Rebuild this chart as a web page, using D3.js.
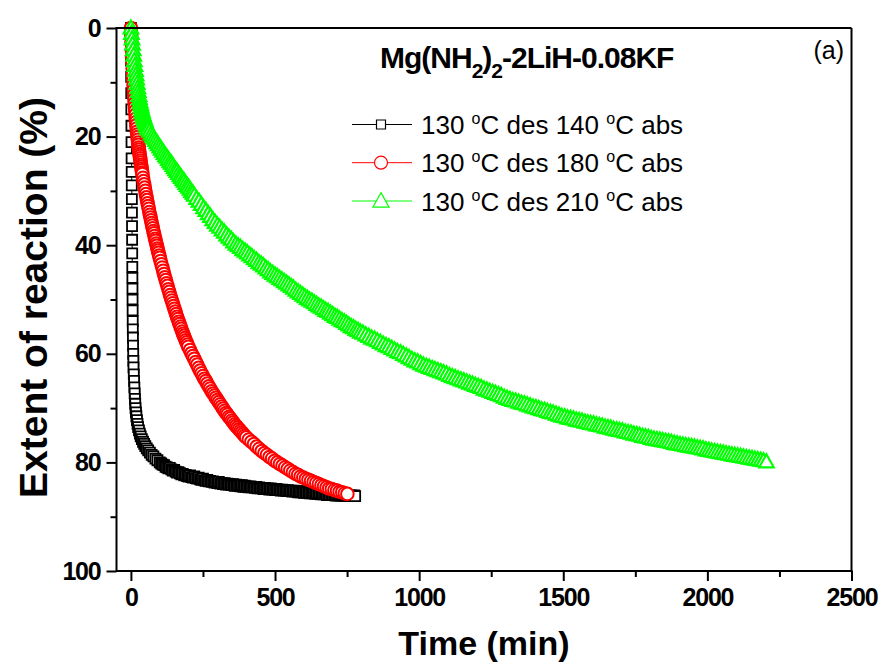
<!DOCTYPE html>
<html>
<head>
<meta charset="utf-8">
<script src="https://cdn.jsdelivr.net/npm/d3@7"></script>
<style>
  body { margin: 0; background: #fff; }
  svg { display: block; font-family: "Liberation Sans", Arial, sans-serif; }
</style>
</head>
<body>
<div id="viz"></div>
<script>
// values (time in min, extent in %)
var blackTime = [
	0,0.3,0.6,0.9,1.2,1.5,1.8,2.1,2.4,2.7,
	3,3.3,3.6,3.9,4.2,4.5,4.8,5.1,5.4,5.7,
	6,6.3,6.6,7,7.5,8,8.5,9,10,11,
	12,13,14,15,16,17.5,19,21,23,25,
	28,31,34,38,42,46,50,55,60,66,
	72,78,85,92,100,
	105,110,115,120,125,130,135,140,145,150,
	155,160,165,170,175,180,185,190,195,200,
	205,210,215,220,225,230,235,240,245,250,
	255,260,265,270,275,280,285,290,295,300,
	305,310,315,320,325,330,335,340,345,350,
	355,360,365,370,375,380,385,390,395,400,
	405,410,415,420,425,430,435,440,445,450,
	455,460,465,470,475,480,485,490,495,500,
	505,510,515,520,525,530,535,540,545,550,
	555,560,565,570,575,580,585,590,595,600,
	605,610,615,620,625,630,635,640,645,650,
	655,660,665,670,675,680,685,690,695,700,
	705,710,715,720,725,730,735,740,745,750,
	755,760,765,770,775,778];
var blackExtent = [
	0,3,6,9,12,15,18,21,24,26.5,
	29,31.5,34,36.5,39,41.5,44,46,48,50,
	52,54,55.5,57,58.5,60,61.3,62.5,63.8,65,
	66.2,67.3,68.3,69.2,70,70.8,71.5,72.2,72.9,73.5,
	74.1,74.7,75.2,75.7,76.2,76.6,77,77.4,77.8,78.2,
	78.6,78.9,79.3,79.6,80,
	80.2,80.4,80.5,80.8,80.9,81.1,81.0,81.3,81.5,81.4,
	81.7,81.9,81.8,82.0,82.2,82.1,82.4,82.3,82.5,82.6,
	82.4,82.7,82.8,82.6,82.9,83.0,82.8,83.1,83.2,83.0,
	83.3,83.4,83.2,83.5,83.4,83.6,83.5,83.7,83.6,83.8,
	83.6,83.9,83.8,84.0,83.8,84.1,83.9,84.1,84.0,84.2,
	84.0,84.3,84.1,84.3,84.2,84.4,84.2,84.5,84.3,84.5,
	84.4,84.6,84.4,84.6,84.5,84.7,84.5,84.8,84.6,84.8,
	84.7,84.9,84.7,84.9,84.8,85.0,84.8,85.0,84.9,85.1,
	84.9,85.1,85.0,85.2,85.0,85.2,85.1,85.3,85.1,85.3,
	85.2,85.4,85.2,85.4,85.3,85.5,85.3,85.5,85.4,85.6,
	85.4,85.6,85.5,85.7,85.5,85.7,85.6,85.8,85.6,85.8,
	85.7,85.9,85.7,85.9,85.8,86.0,85.8,86.0,85.9,86.0,
	85.9,86.1,85.9,86.1,86.0,86.1,86.0,86.2,86.0,86.2,
	86.1,86.2,86.1,86.2,86.1,86.2];

var redTime = [
	0,1,2,3,4,5,6,7,8,9,
	10,11,12,13,14,15,16,17,18,19,
	20,21,22,23,24,25,26,27,28,29,
	30,31,32,33,34,35,36,37,38,39,
	40,
	42,44,46,48,50,52,54,56,58,60,
	62,64,66,68,70,72,74,76,78,80,
	82,84,86,88,90,92,94,96,98,100,
	103,106,109,112,115,118,121,124,127,130,
	133,136,139,142,145,148,151,154,157,160,
	163,166,169,172,175,178,181,184,187,190,
	193,196,199,
	205,210,215,220,225,230,235,240,245,250,
	255,260,265,270,275,280,285,290,295,300,
	305,310,315,320,325,330,335,340,345,350,
	355,360,365,370,375,380,385,390,395,400,
	409,418,427,436,445,454,463,472,481,490,
	499,508,517,526,535,544,553,562,571,580,
	589,598,607,616,625,634,643,652,661,670,
	679,688,697,706,715,724,733,742,751];
var redExtent = [
	0,1.3,2.6,3.9,5.1,6.3,7.4,8.5,9.5,10.5,
	11.4,12.3,13.1,13.9,14.6,15.3,16,16.7,17.3,17.9,
	18.5,19.1,19.6,20.1,20.6,21.1,21.5,22,22.4,22.8,
	23.2,23.6,24,24.4,24.8,25.2,25.5,25.9,26.2,26.6,
	26.9,
	27.6,28.2,28.8,29.4,30,30.6,31.2,31.7,32.3,32.8,
	33.3,33.9,34.4,34.9,35.4,35.9,36.4,36.9,37.4,37.8,
	38.3,38.8,39.2,39.7,40.1,40.6,41,41.4,41.9,42.3,
	42.9,43.5,44.1,44.7,45.3,45.9,46.4,47,47.5,48.1,
	48.6,49.2,49.7,50.2,50.7,51.2,51.7,52.2,52.7,53.2,
	53.6,54.1,54.5,55,55.4,55.9,56.3,56.7,57.1,57.5,
	57.9,58.3,58.7,
	59.3,59.9,60.4,60.9,61.5,62,62.6,63.1,63.6,64.1,
	64.6,65,65.5,66,66.4,66.9,67.3,67.7,68.1,68.5,
	68.9,69.3,69.7,70.1,70.5,70.9,71.2,71.6,71.9,72.3,
	72.6,73,73.3,73.6,73.9,74.2,74.5,74.8,75.1,75.4,
	75.8,76.2,76.6,77.1,77.5,77.9,78.3,78.6,79,79.3,
	79.7,80,80.3,80.6,80.9,81.2,81.5,81.8,82.1,82.3,
	82.6,82.8,83,83.2,83.4,83.6,83.8,84,84.2,84.4,
	84.6,84.8,84.9,85.1,85.2,85.4,85.5,85.7,85.8];

var greenTime = [
	0,2,4,6,8,10,12,14,16,18,
	20,22,24,26,28,30,32,34,36,38,
	40,42,44,46,48,50,52,54,56,58,
	60,
	65,70,75,80,85,90,95,100,105,110,
	115,120,125,130,135,140,145,150,155,160,
	165,170,175,180,185,190,195,200,205,210,
	215,220,
	228,236,244,252,260,268,276,284,292,300,
	308,316,324,332,340,348,356,364,372,380,
	388,396,404,412,420,428,436,444,452,460,
	468,476,484,492,500,508,516,524,532,540,
	548,556,564,572,580,588,596,604,612,620,
	628,636,644,652,660,668,676,684,692,700,
	708,716,724,732,740,748,756,764,772,780,
	788,796,
	805,815,825,835,845,855,865,875,885,895,
	905,915,925,935,945,955,965,975,985,995,
	1005,1015,1025,1035,1045,1055,1065,1075,1085,1095,
	1105,1115,1125,1135,1145,1155,1165,1175,1185,1195,
	1205,1215,1225,1235,1245,1255,1265,1275,1285,1295,
	1305,1315,1325,1335,1345,1355,1365,1375,1385,1395,
	1405,1415,1425,1435,1445,1455,1465,1475,1485,1495,
	1505,1515,1525,1535,1545,1555,1565,1575,1585,1595,
	1605,1615,1625,1635,1645,1655,1665,1675,1685,1695,
	1705,1715,1725,1735,1745,1755,1765,1775,1785,1795,
	1805,1815,1825,1835,1845,1855,1865,1875,1885,1895,
	1905,1915,1925,1935,1945,1955,1965,1975,1985,1995,
	2005,2015,2025,2035,2045,2055,2065,2075,2085,2095,
	2105,2115,2125,2135,2145,2155,2165,2175,2185,2195,
	2205];
var greenExtent = [
	0,1,2,3,4,5,6,6.9,7.8,8.6,
	9.4,10.2,11,11.7,12.4,13,13.6,14.1,14.6,15.1,
	15.5,15.9,16.3,16.6,16.9,17.2,17.5,17.8,18.1,18.4,
	18.6,
	19.0,19.5,19.9,20.3,20.7,21.1,21.5,21.9,22.3,22.7,
	23.1,23.5,23.8,24.2,24.6,24.9,25.3,25.7,26.1,26.4,
	26.8,27.2,27.5,27.9,28.2,28.6,29,29.3,29.7,30.1,
	30.4,30.8,
	31.4,31.9,32.5,33.1,33.6,34.2,34.7,35.3,35.8,36.3,
	36.7,37.2,37.6,38.1,38.5,38.9,39.4,39.8,40.1,40.4,
	40.8,41.1,41.4,41.8,42.1,42.5,42.8,43.2,43.5,43.8,
	44.2,44.5,44.9,45.2,45.5,45.8,46.1,46.4,46.7,47,
	47.3,47.6,47.9,48.3,48.6,48.9,49.2,49.5,49.8,50.1,
	50.3,50.6,50.9,51.2,51.4,51.7,52,52.2,52.5,52.8,
	53.1,53.3,53.6,53.9,54.1,54.4,54.7,55,55.2,55.5,
	55.7,56,
	56.2,56.5,56.8,57.1,57.3,57.6,57.9,58.2,58.5,58.7,
	59,59.3,59.6,59.8,60.1,60.4,60.7,61,61.3,61.5,
	61.8,62.1,62.3,62.5,62.7,62.9,63.1,63.3,63.5,63.7,
	64,64.2,64.4,64.6,64.8,65,65.2,65.4,65.6,65.8,
	66,66.2,66.5,66.7,66.9,67.1,67.3,67.5,67.7,68,
	68.2,68.4,68.6,68.7,68.9,69.1,69.2,69.4,69.6,69.8,
	69.9,70.1,70.3,70.4,70.6,70.8,70.9,71.1,71.3,71.5,
	71.6,71.8,71.9,72,72.2,72.3,72.4,72.6,72.7,72.8,
	72.9,73.1,73.2,73.3,73.5,73.6,73.7,73.9,74,74.1,
	74.2,74.4,74.5,74.6,74.8,74.9,75,75.2,75.3,75.4,
	75.6,75.7,75.8,75.9,76,76.1,76.2,76.3,76.5,76.6,
	76.7,76.8,76.9,77,77.1,77.2,77.3,77.4,77.5,77.7,
	77.8,77.9,78,78.1,78.2,78.3,78.4,78.5,78.6,78.7,
	78.8,78.9,79,79.1,79.2,79.3,79.4,79.5,79.6,79.7,
	79.9];

var seriesLabels = [["130 ", "C des 140 ", "C abs"], ["130 ", "C des 180 ", "C abs"], ["130 ", "C des 210 ", "C abs"]];
var seriesColors = ["#000000", "#ff0000", "#00ff00"];
var xTicks = [0, 500, 1000, 1500, 2000, 2500];
var xMinor = [250, 750, 1250, 1750, 2250];
var yTicks = [0, 20, 40, 60, 80, 100];
var yMinor = [10, 30, 50, 70, 90];

var width = 882, height = 666;
var plotLeft = 116.5, plotRight = 851.5, plotTop = 28, plotBottom = 571;
var font = '"Liberation Sans", Arial, sans-serif';

var svg = d3.select("#viz").append("svg")
	.attr("width", width)
	.attr("height", height);

svg.append("rect").attr("width", width).attr("height", height).style("fill", "#fff");

var x = d3.scaleLinear().domain([-50, 2500]).range([plotLeft, plotRight]);
var y = d3.scaleLinear().domain([0, 100]).range([plotTop, plotBottom]);

var symbols = {
	square: function(s){ return "M" + (-s/2) + "," + (-s/2) + "h" + s + "v" + s + "h" + (-s) + "Z"; },
	circle: function(s){ var r = s/2; return "M" + (-r) + ",0a" + r + "," + r + " 0 1,0 " + (2*r) + ",0a" + r + "," + r + " 0 1,0 " + (-2*r) + ",0Z"; },
	triangle: function(s){ var h = s*0.9; return "M0," + (-h*0.58) + "L" + (s/2) + "," + (h*0.42) + "L" + (-s/2) + "," + (h*0.42) + "Z"; }
};
var shapes = ["square", "circle", "triangle"];
var markerSize = [10, 12.6, 14.5];
var markerStroke = [1.8, 2, 2.2];

var series = [
	{t: blackTime, e: blackExtent},
	{t: redTime, e: redExtent},
	{t: greenTime, e: greenExtent}
];

// data
var plot = svg.append("g");
var line = d3.line().x(function(d){ return x(d[0]); }).y(function(d){ return y(d[1]); });
series.forEach(function(s, k){
	var pts = s.t.map(function(t, i){ return [t, s.e[i]]; });
	plot.append("path")
		.attr("d", line(pts))
		.style("fill", "none")
		.style("stroke", seriesColors[k])
		.style("stroke-width", 1);
	plot.selectAll(".m" + k)
		.data(pts)
		.enter()
		.append("path")
		.attr("class", "m" + k)
		.attr("transform", function(d){ return "translate(" + x(d[0]) + "," + y(d[1]) + ")"; })
		.attr("d", symbols[shapes[k]](markerSize[k]))
		.style("fill", "#fff")
		.style("stroke", seriesColors[k])
		.style("stroke-width", markerStroke[k]);
});

// frame
svg.append("line").attr("x1", plotLeft).attr("x2", plotRight).attr("y1", plotTop).attr("y2", plotTop)
	.style("stroke", "#000").style("stroke-width", 2);
svg.append("line").attr("x1", plotRight).attr("x2", plotRight).attr("y1", plotTop).attr("y2", plotBottom)
	.style("stroke", "#000").style("stroke-width", 2);

// axes
var tickFont = function(g){
	g.select(".domain").remove();
	g.selectAll("line").style("stroke", "#000").style("stroke-width", 2);
	g.selectAll("text")
		.style("font-family", font)
		.style("font-size", "25px")
		.style("font-weight", "bold")
		.style("letter-spacing", "-1.2px")
		.style("fill", "#000");
};

var xAxis = svg.append("g").attr("transform", "translate(0," + plotBottom + ")")
	.call(d3.axisBottom(x).tickValues(xTicks).tickSize(10).tickPadding(7).tickFormat(d3.format("d")));
tickFont(xAxis);
var xMinorAxis = svg.append("g").attr("transform", "translate(0," + plotBottom + ")")
	.call(d3.axisBottom(x).tickValues(xMinor).tickSize(6).tickFormat(""));
tickFont(xMinorAxis);

var yAxis = svg.append("g").attr("transform", "translate(" + plotLeft + ",0)")
	.call(d3.axisLeft(y).tickValues(yTicks).tickSize(10).tickPadding(6).tickFormat(d3.format("d")));
tickFont(yAxis);
var yMinorAxis = svg.append("g").attr("transform", "translate(" + plotLeft + ",0)")
	.call(d3.axisLeft(y).tickValues(yMinor).tickSize(6).tickFormat(""));
tickFont(yMinorAxis);

svg.append("line").attr("x1", plotLeft).attr("x2", plotRight + 1).attr("y1", plotBottom).attr("y2", plotBottom)
	.style("stroke", "#000").style("stroke-width", 2);
svg.append("line").attr("x1", plotLeft).attr("x2", plotLeft).attr("y1", plotTop - 1).attr("y2", plotBottom + 1)
	.style("stroke", "#000").style("stroke-width", 2);

// axis titles
svg.append("text")
	.attr("x", (plotLeft + plotRight) / 2)
	.attr("y", 655)
	.attr("text-anchor", "middle")
	.style("font-family", font)
	.style("font-size", "34px")
	.style("font-weight", "bold")
	.text("Time (min)");

svg.append("text")
	.attr("transform", "translate(47," + ((plotTop + plotBottom) / 2 - 2) + ") rotate(-90)")
	.attr("text-anchor", "middle")
	.style("font-family", font)
	.style("font-size", "39px")
	.style("font-weight", "bold")
	.text("Extent of reaction (%)");

// title
var title = svg.append("text")
	.attr("x", 380)
	.attr("y", 68)
	.style("font-family", font)
	.style("font-size", "30px")
	.style("font-weight", "bold")
	.style("letter-spacing", "-1px");
title.append("tspan").text("Mg(NH");
title.append("tspan").attr("dy", 10).style("font-size", "21px").text("2");
title.append("tspan").attr("dy", -10).text(")");
title.append("tspan").attr("dy", 10).style("font-size", "21px").text("2");
title.append("tspan").attr("dy", -10).text("-2LiH-0.08KF");

svg.append("text")
	.attr("x", 844)
	.attr("y", 59)
	.attr("text-anchor", "end")
	.style("font-family", font)
	.style("font-size", "25px")
	.text("(a)");

// legend
var legend = svg.append("g");
var legendY = [124.5, 162.7, 201];
var legendSize = [9, 13, 16];
seriesLabels.forEach(function(lab, k){
	var gy = legendY[k];
	legend.append("line").attr("x1", 352).attr("x2", 412).attr("y1", gy).attr("y2", gy)
		.style("stroke", seriesColors[k]).style("stroke-width", 1);
	legend.append("path")
		.attr("transform", "translate(381," + gy + ")")
		.attr("d", symbols[shapes[k]](legendSize[k]))
		.style("fill", "#fff")
		.style("stroke", seriesColors[k])
		.style("stroke-width", 1.2);
	var t = legend.append("text")
		.attr("x", 421)
		.attr("y", gy + 9.5)
		.style("font-family", font)
		.style("font-size", "26px");
	t.append("tspan").text(lab[0]);
	t.append("tspan").attr("dy", -10).style("font-size", "16px").text("o");
	t.append("tspan").attr("dy", 10).text(lab[1]);
	t.append("tspan").attr("dy", -10).style("font-size", "16px").text("o");
	t.append("tspan").attr("dy", 10).text(lab[2]);
});
</script>
</body>
</html>
